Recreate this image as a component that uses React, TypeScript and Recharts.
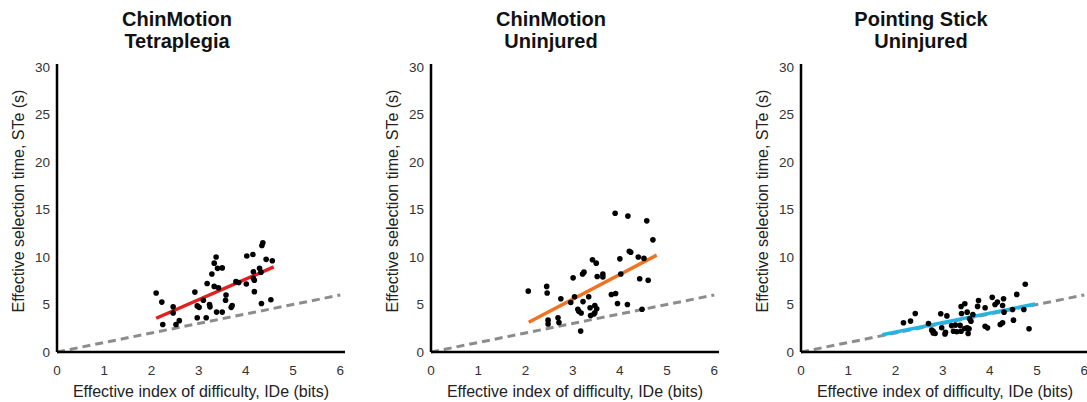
import React from 'react';
import { ScatterChart, Scatter, XAxis, YAxis, ReferenceLine, Label } from 'recharts';

// ChinMotion, tetraplegia group
const tetraIDe = [2.10, 2.22, 2.24, 2.46, 2.46, 2.52, 2.59, 2.92, 2.97, 3.01, 2.97, 3.10, 3.16, 3.18, 3.23, 3.24, 3.28, 3.33, 3.37, 3.33, 3.40, 3.42, 3.50, 3.38, 3.50, 3.58, 3.57, 3.71, 3.69, 3.79, 3.85, 4.01, 4.02, 4.15, 4.16, 4.16, 4.18, 4.18, 4.29, 4.32, 4.34, 4.36, 4.33, 4.43, 4.56, 4.53];
const tetraSTe = [6.2, 5.25, 2.9, 4.75, 4.1, 2.9, 3.3, 6.3, 4.85, 4.7, 3.6, 5.45, 3.6, 7.2, 5.0, 4.75, 8.2, 9.35, 10.0, 6.9, 8.8, 6.75, 8.85, 4.2, 4.2, 6.0, 5.45, 4.9, 4.7, 7.4, 7.3, 7.15, 10.1, 10.25, 8.45, 7.75, 7.55, 6.35, 8.8, 8.4, 11.2, 11.5, 5.1, 9.75, 9.6, 5.5];
const tetraFit = [{ x: 2.1, y: 3.55 }, { x: 4.59, y: 8.95 }];

// ChinMotion, uninjured group
const chinIDe = [2.06, 2.45, 2.46, 2.48, 2.48, 2.69, 2.71, 2.75, 2.96, 3.01, 3.04, 3.11, 3.13, 3.17, 3.18, 3.21, 3.24, 3.22, 3.34, 3.37, 3.38, 3.42, 3.47, 3.45, 3.50, 3.47, 3.51, 3.52, 3.64, 3.64, 3.82, 3.91, 3.95, 4.00, 4.02, 3.90, 4.17, 4.16, 4.20, 4.23, 4.39, 4.42, 4.47, 4.51, 4.57, 4.60, 4.70];
const chinSTe = [6.4, 6.9, 6.2, 3.35, 2.95, 3.6, 3.1, 5.6, 5.2, 7.8, 5.8, 4.5, 4.3, 2.2, 4.1, 8.2, 8.4, 5.3, 5.8, 4.65, 3.84, 9.7, 4.9, 4.0, 9.35, 4.12, 4.55, 7.95, 8.2, 7.9, 6.05, 6.15, 5.1, 9.8, 8.2, 14.6, 14.3, 5.0, 10.6, 10.5, 10.0, 7.7, 4.5, 9.85, 13.8, 7.55, 11.8];
const chinFit = [{ x: 2.07, y: 3.13 }, { x: 4.78, y: 10.19 }];

// Pointing stick, uninjured group
const stickIDe = [2.17, 2.32, 2.42, 2.70, 2.77, 2.80, 2.84, 2.80, 2.96, 2.98, 3.06, 3.05, 3.09, 3.19, 3.23, 3.30, 3.27, 3.37, 3.39, 3.39, 3.47, 3.40, 3.52, 3.57, 3.64, 3.60, 3.52, 3.56, 3.54, 3.47, 3.74, 3.76, 3.90, 3.90, 3.95, 4.05, 4.11, 4.16, 4.22, 4.27, 4.29, 4.27, 4.30, 4.48, 4.50, 4.57, 4.72, 4.75, 4.83];
const stickSTe = [3.08, 3.25, 4.05, 3.0, 2.3, 2.0, 1.95, 2.18, 4.02, 2.55, 2.08, 1.9, 3.8, 2.78, 2.18, 2.13, 2.83, 2.8, 2.18, 4.78, 5.08, 4.05, 4.19, 3.49, 3.95, 3.24, 2.54, 2.44, 1.94, 2.48, 4.8, 5.42, 4.66, 2.71, 2.54, 5.75, 5.0, 5.25, 2.89, 3.07, 5.6, 4.9, 4.19, 4.47, 3.35, 6.06, 4.47, 7.12, 2.45];
const stickFit = [{ x: 1.72, y: 1.82 }, { x: 4.96, y: 5.05 }];

// Fitts' reference line, 1 bit per second
const refLine = [{ x: 0, y: 0 }, { x: 6, y: 6 }];

const xTicks = [0, 1, 2, 3, 4, 5, 6];
const yTicks = [0, 5, 10, 15, 20, 25, 30];

const FONT = '"Liberation Sans", Arial, sans-serif';

const toPoints = (xs: number[], ys: number[]) => xs.map((x, i) => ({ x, y: ys[i] }));

const Dot = (props: any) => <circle cx={props.cx} cy={props.cy} r={2.8} fill="#000" />;

const YTitle = (props: any) => {
  const { viewBox } = props;
  const cx = viewBox.x + 18;
  const cy = viewBox.y + viewBox.height / 2 - 7;
  return (
    <text
      x={cx}
      y={cy}
      transform={`rotate(-90, ${cx}, ${cy})`}
      textAnchor="middle"
      dominantBaseline="central"
      fontSize={16}
      fill="#222"
    >
      Effective selection time, STe (s)
    </text>
  );
};

interface PanelProps {
  title: string[];
  xs: number[];
  ys: number[];
  fit: { x: number; y: number }[];
  color: string;
  left: number;
}

const Panel: React.FC<PanelProps> = ({ title, xs, ys, fit, color, left }) => {
  const data = toPoints(xs, ys);
  return (
    <div style={{ position: 'absolute', left, top: 0, width: 372, height: 402 }}>
      <div
        style={{
          position: 'absolute',
          left: 0,
          width: 354,
          top: 8,
          textAlign: 'center',
          fontWeight: 'bold',
          fontSize: 20,
          lineHeight: '22px',
          color: '#111',
        }}
      >
        {title[0]}
        <br />
        {title[1]}
      </div>
      <ScatterChart width={372} height={402} margin={{ top: 64, right: 27, bottom: 20, left: 0 }}>
        <XAxis
          type="number"
          dataKey="x"
          domain={[0, 6.1]}
          ticks={xTicks}
          allowDataOverflow
          height={30}
          tickLine={false}
          tickSize={9}
          tickMargin={4}
          axisLine={{ stroke: '#000', strokeWidth: 2.5 }}
          tick={{ fill: '#333', fontSize: 13.5 }}
        >
          <Label value="Effective index of difficulty, IDe (bits)" position="bottom" offset={4} fontSize={16} fill="#222" />
        </XAxis>
        <YAxis
          type="number"
          dataKey="y"
          domain={[0, 30.3]}
          ticks={yTicks}
          allowDataOverflow
          width={57}
          tickLine={false}
          tickSize={3}
          tickMargin={4}
          axisLine={{ stroke: '#000', strokeWidth: 2.5 }}
          tick={{ fill: '#333', fontSize: 13.5 }}
        >
          <Label content={YTitle} />
        </YAxis>
        <ReferenceLine
          segment={refLine}
          stroke="#8c8c8c"
          strokeWidth={3}
          strokeDasharray="8 5"
        />
        <Scatter data={data} shape={Dot} isAnimationActive={false} />
        <ReferenceLine segment={fit} stroke={color} strokeWidth={3.5} />
      </ScatterChart>
    </div>
  );
};

export default function App() {
  return (
    <div
      style={{
        position: 'absolute',
        left: 0,
        top: 0,
        width: 1087,
        height: 402,
        overflow: 'hidden',
        background: '#fff',
        fontFamily: FONT,
      }}
    >
      <Panel title={['ChinMotion', 'Tetraplegia']} xs={tetraIDe} ys={tetraSTe} fit={tetraFit} color="#e3201f" left={0} />
      <Panel title={['ChinMotion', 'Uninjured']} xs={chinIDe} ys={chinSTe} fit={chinFit} color="#ef7322" left={374} />
      <Panel title={['Pointing Stick', 'Uninjured']} xs={stickIDe} ys={stickSTe} fit={stickFit} color="#22b5e6" left={744} />
    </div>
  );
}
